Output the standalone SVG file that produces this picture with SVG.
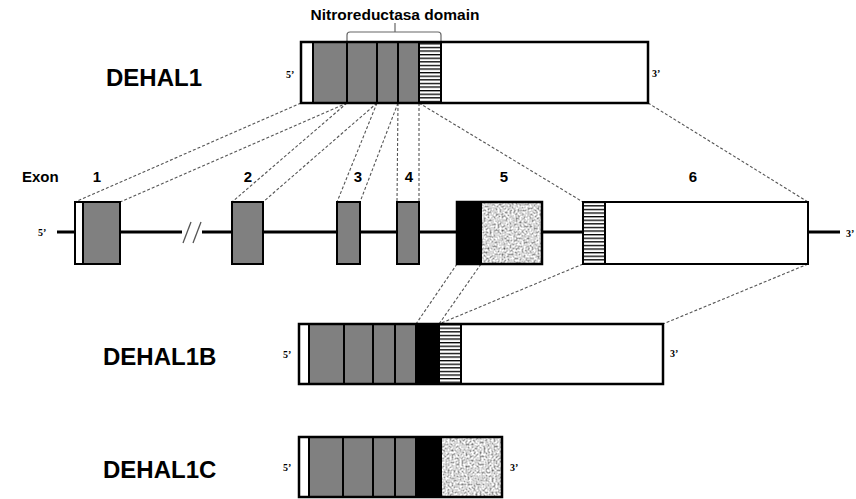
<svg xmlns="http://www.w3.org/2000/svg" width="856" height="499" viewBox="0 0 856 499">
<style>
.o{fill:none;stroke:#000;stroke-width:2.5}
.g{fill:#808080;stroke:#000;stroke-width:2}
.w{fill:#fff;stroke:#000;stroke-width:2}
.b{fill:#000;stroke:#000;stroke-width:2}
.h{fill:url(#hatch);stroke:#000;stroke-width:2}
.d{stroke:#555;stroke-width:1.1;stroke-dasharray:3 2;fill:none}
.t{font-family:"Liberation Sans",Arial,sans-serif;font-weight:bold;fill:#000}
.big{font-size:24px}
.ex{font-size:15px}
.p{font-size:10px;font-family:"Liberation Serif","Times New Roman",serif}
.ln{stroke:#000;stroke-width:3;fill:none}
</style>
<defs>
<pattern id="hatch" patternUnits="userSpaceOnUse" width="10" height="3.6">
<rect width="10" height="3.6" fill="#fff"/>
<rect width="10" height="1.3" fill="#000"/>
</pattern>
<filter id="noise" x="0" y="0" width="1" height="1" filterUnits="objectBoundingBox">
<feTurbulence type="fractalNoise" baseFrequency="0.5" numOctaves="2" seed="4"/>
<feColorMatrix type="matrix" values="1.7 0 0 0 -0.17  1.7 0 0 0 -0.17  1.7 0 0 0 -0.17  0 0 0 0 1"/>
</filter>
</defs>

<g id="connectors">
<line class="d" x1="301" y1="103" x2="75" y2="202"/>
<line class="d" x1="347" y1="103" x2="120" y2="202"/>
<line class="d" x1="347" y1="103" x2="232" y2="202"/>
<line class="d" x1="377" y1="103" x2="263" y2="202"/>
<line class="d" x1="377" y1="103" x2="337" y2="202"/>
<line class="d" x1="398" y1="103" x2="360" y2="202"/>
<line class="d" x1="398" y1="103" x2="397" y2="202"/>
<line class="d" x1="419" y1="103" x2="419" y2="202"/>
<line class="d" x1="419" y1="103" x2="583" y2="202"/>
<line class="d" x1="648" y1="103" x2="808" y2="202"/>
<line class="d" x1="457" y1="264" x2="416" y2="324"/>
<line class="d" x1="481" y1="264" x2="439" y2="324"/>
<line class="d" x1="583" y1="264" x2="439" y2="324"/>
<line class="d" x1="808" y1="264" x2="663" y2="324"/>
</g>

<g id="dehal1">
<text class="t big" x="106" y="86">DEHAL1</text>
<text class="t" x="395" y="20" font-size="15.5" text-anchor="middle">Nitroreductasa domain</text>
<path d="M347,41 V35 Q347,32 350,32 H438 Q441,32 441,35 V41 M395,32 V23" fill="none" stroke="#666" stroke-width="1.2"/>
<rect class="w" x="301" y="42" width="12" height="61"/>
<rect class="g" x="313" y="42" width="34" height="61"/>
<rect class="g" x="347" y="42" width="30" height="61"/>
<rect class="g" x="377" y="42" width="21" height="61"/>
<rect class="g" x="398" y="42" width="21" height="61"/>
<rect class="h" x="419" y="42" width="22" height="61"/>
<rect class="w" x="441" y="42" width="207" height="61"/>
<rect class="o" x="301" y="42" width="347" height="61"/>
<text class="t p" x="286" y="78">5’</text>
<text class="t p" x="652" y="77">3’</text>
</g>

<g id="gene">
<text class="t ex" x="22" y="182">Exon</text>
<line class="ln" x1="57" y1="232" x2="182" y2="232"/>
<line class="ln" x1="202" y1="232" x2="840" y2="232"/>
<line x1="183" y1="243" x2="191" y2="222" stroke="#555" stroke-width="1.3"/>
<line x1="193" y1="243" x2="201" y2="222" stroke="#555" stroke-width="1.3"/>
<text class="t p" x="38" y="236">5’</text>
<text class="t p" x="846" y="237">3’</text>
</g>

<g id="exon1">
<text class="t ex" x="97" y="182" text-anchor="middle">1</text>
<rect class="w" x="75" y="202" width="8" height="62"/>
<rect class="g" x="83" y="202" width="37" height="62"/>
</g>
<g id="exon2">
<text class="t ex" x="248" y="182" text-anchor="middle">2</text>
<rect class="g" x="232" y="202" width="31" height="62"/>
</g>
<g id="exon3">
<text class="t ex" x="358" y="182" text-anchor="middle">3</text>
<rect class="g" x="337" y="202" width="23" height="62"/>
</g>
<g id="exon4">
<text class="t ex" x="409" y="182" text-anchor="middle">4</text>
<rect class="g" x="397" y="202" width="22" height="62"/>
</g>
<g id="exon5">
<text class="t ex" x="504" y="182" text-anchor="middle">5</text>
<rect x="481" y="202" width="61" height="62" filter="url(#noise)" fill="#aaa"/>
<rect class="b" x="457" y="202" width="24" height="62"/>
<rect class="o" x="457" y="202" width="85" height="62" stroke-width="2"/>
</g>
<g id="exon6">
<text class="t ex" x="693" y="182" text-anchor="middle">6</text>
<rect class="h" x="583" y="202" width="22" height="62"/>
<rect class="w" x="605" y="202" width="203" height="62"/>
</g>

<g id="dehal1b">
<text class="t big" x="103" y="365" font-size="25">DEHAL1B</text>
<rect class="w" x="299" y="324" width="10" height="60"/>
<rect class="g" x="309" y="324" width="35" height="60"/>
<rect class="g" x="344" y="324" width="29" height="60"/>
<rect class="g" x="373" y="324" width="22" height="60"/>
<rect class="g" x="395" y="324" width="21" height="60"/>
<rect class="b" x="416" y="324" width="23" height="60"/>
<rect class="h" x="439" y="324" width="22" height="60"/>
<rect class="w" x="461" y="324" width="202" height="60"/>
<rect class="o" x="299" y="324" width="364" height="60"/>
<text class="t p" x="283" y="358">5’</text>
<text class="t p" x="670" y="357">3’</text>
</g>

<g id="dehal1c">
<text class="t big" x="103" y="478" font-size="25">DEHAL1C</text>
<rect class="w" x="299" y="437" width="10" height="60"/>
<rect class="g" x="309" y="437" width="34" height="60"/>
<rect class="g" x="343" y="437" width="30" height="60"/>
<rect class="g" x="373" y="437" width="22" height="60"/>
<rect class="g" x="395" y="437" width="21" height="60"/>
<rect class="b" x="416" y="437" width="26" height="60"/>
<rect x="442" y="437" width="60" height="60" filter="url(#noise)" fill="#aaa"/>
<rect class="o" x="299" y="437" width="203" height="60"/>
<text class="t p" x="283" y="471">5’</text>
<text class="t p" x="510" y="471">3’</text>
</g>
</svg>
